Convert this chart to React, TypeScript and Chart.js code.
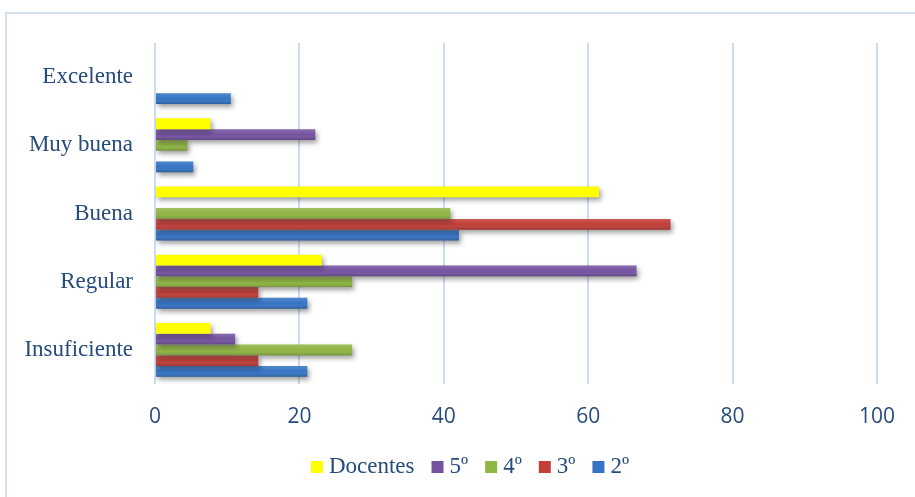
import React, { useEffect, useRef } from "react";
import { Chart, registerables } from "chart.js";

Chart.register(...registerables);

// Rating categories, top to bottom
const categories = ["Excelente", "Muy buena", "Buena", "Regular", "Insuficiente"];

// Percentages per group
const docentes = [0, 7.7, 61.5, 23.1, 7.7];
const quinto = [0, 22.2, 0, 66.7, 11.1];
const cuarto = [0, 4.5, 40.9, 27.3, 27.3];
const tercero = [0, 0, 71.4, 14.3, 14.3];
const segundo = [10.5, 5.3, 42.1, 21.1, 21.1];

const seriesLabels = ["Docentes", "5º", "4º", "3º", "2º"];
const seriesColors = ["#FFFF00", "#7553A0", "#8FB543", "#C23E38", "#3574C4"];
const xTickStep = 20;
const xMax = 100;

const SERIF = "'Liberation Serif', 'DejaVu Serif', serif";
const SANS = "'Open Sans', 'Liberation Sans', sans-serif";
const TEXT_BLUE = "#264B7D";

// Light frame around the whole figure
const framePlugin = {
  id: "frame",
  beforeDraw(chart: any) {
    const { ctx, width, height } = chart;
    ctx.save();
    ctx.fillStyle = "#ffffff";
    ctx.fillRect(0, 0, width, height);
    ctx.strokeStyle = "#D5E1EE";
    ctx.lineWidth = 2;
    ctx.strokeRect(6, 13, width + 20, height + 20);
    ctx.restore();
  },
};

// Soft drop shadow under the bars, plus a light-to-dark shading on the coloured bars
const barStylePlugin = {
  id: "barStyle",
  beforeDatasetsDraw(chart: any) {
    const ctx = chart.ctx;
    ctx.save();
    ctx.shadowColor = "rgba(0,0,0,0.38)";
    ctx.shadowBlur = 5;
    ctx.shadowOffsetX = 2;
    ctx.shadowOffsetY = 3;
  },
  afterDatasetsDraw(chart: any) {
    const ctx = chart.ctx;
    ctx.restore();
    chart.data.datasets.forEach((ds: any, di: number) => {
      if (di === 0) return; // flat yellow
      const meta = chart.getDatasetMeta(di);
      meta.data.forEach((el: any) => {
        const h = el.height;
        const top = el.y - h / 2;
        const left = Math.min(el.base, el.x);
        const w = Math.abs(el.x - el.base);
        if (w < 0.5) return;
        const g = ctx.createLinearGradient(0, top, 0, top + h);
        g.addColorStop(0, "rgba(255,255,255,0.14)");
        g.addColorStop(0.5, "rgba(255,255,255,0)");
        g.addColorStop(1, "rgba(0,0,0,0.2)");
        ctx.save();
        ctx.fillStyle = g;
        ctx.fillRect(left, top, w, h);
        ctx.restore();
      });
    });
  },
};

// Legend row drawn beneath the axis
const legendPlugin = {
  id: "legendRow",
  afterDraw(chart: any) {
    const ctx = chart.ctx;
    ctx.save();
    ctx.font = `23px ${SERIF}`;
    ctx.textBaseline = "middle";
    const box = 12;
    const gapText = 6;
    const gapItem = 17;
    const items = chart.data.datasets.map((ds: any) => ({
      label: ds.label,
      color: ds.backgroundColor,
      w: ctx.measureText(ds.label).width,
    }));
    const total =
      items.reduce((s: number, it: any) => s + box + gapText + it.w, 0) +
      gapItem * (items.length - 1);
    let x = 470 - total / 2;
    const cy = 467;
    items.forEach((it: any) => {
      ctx.fillStyle = it.color;
      ctx.fillRect(x, cy - box / 2, box, box);
      x += box + gapText;
      ctx.fillStyle = TEXT_BLUE;
      ctx.fillText(it.label, x, cy);
      x += it.w + gapItem;
    });
    ctx.restore();
  },
};

export default function App() {
  const canvasRef = useRef<HTMLCanvasElement | null>(null);

  useEffect(() => {
    document.body.style.margin = "0";
    const canvas = canvasRef.current;
    if (!canvas) return;

    const values = [docentes, quinto, cuarto, tercero, segundo];
    const chart = new Chart(canvas, {
      type: "bar",
      data: {
        labels: categories,
        datasets: values.map((data, i) => ({
          label: seriesLabels[i],
          data,
          backgroundColor: seriesColors[i],
          borderWidth: 0,
          categoryPercentage: 0.79,
          barPercentage: 1.0,
        })),
      },
      options: {
        indexAxis: "y",
        responsive: false,
        animation: false,
        layout: { padding: { top: 43, right: 37, bottom: 53, left: 0 } },
        plugins: {
          legend: { display: false },
          tooltip: { enabled: false },
        },
        scales: {
          x: {
            min: 0,
            max: xMax,
            ticks: {
              stepSize: xTickStep,
              color: TEXT_BLUE,
              font: { family: SANS, size: 21 },
              padding: 20,
            },
            grid: { color: "#CDDCF2", lineWidth: 2, drawTicks: false },
            border: { display: false },
            afterFit(scale: any) {
              scale.height = 60;
            },
          },
          y: {
            ticks: {
              color: TEXT_BLUE,
              font: { family: SERIF, size: 23 },
              padding: 22,
            },
            grid: { display: false, drawTicks: false },
            border: { display: false },
            afterFit(scale: any) {
              scale.width = 155;
            },
          },
        },
      },
      plugins: [framePlugin, barStylePlugin, legendPlugin],
    });

    return () => chart.destroy();
  }, []);

  return <canvas ref={canvasRef} width={915} height={497} style={{ display: "block" }} />;
}
